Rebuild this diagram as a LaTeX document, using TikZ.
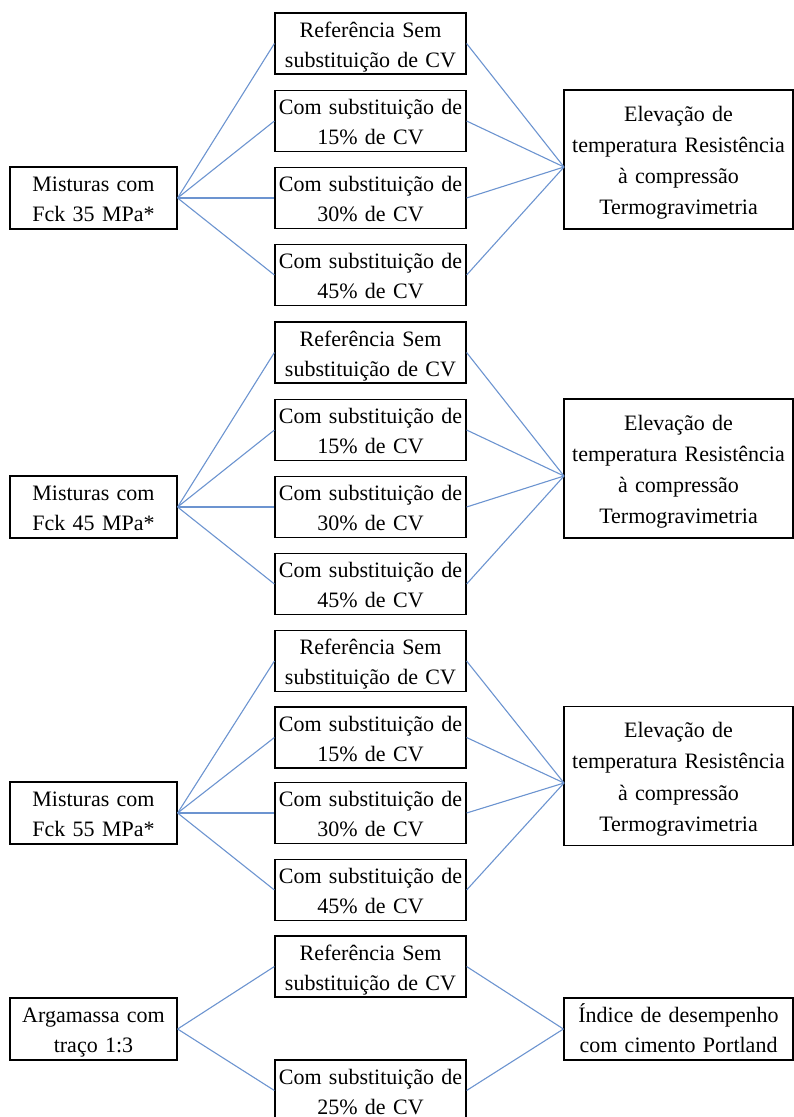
\documentclass[tikz,border=0pt]{standalone}
\usepackage{fontspec}
\setmainfont{Liberation Serif}
\definecolor{linkblue}{RGB}{108,148,208}
\tikzset{
  box/.style={draw=black, line width=1.2pt, rectangle, inner sep=0pt, align=center,
              font=\fontsize{22}{30}\selectfont,
              execute at begin node={\rule{0pt}{22pt}},
              execute at end node={\rule[-5pt]{0pt}{0pt}}},
  midbox/.style={box, minimum width=191pt, minimum height=61pt, text width=189pt},
  leftbox/.style={box, minimum width=167pt, minimum height=62pt, text width=165pt},
  rightbox/.style={box, minimum width=229pt, minimum height=139pt, text width=227pt,
              font=\fontsize{22}{31.2}\selectfont},
  endbox/.style={box, minimum width=229pt, minimum height=62pt, text width=227pt},
  conn/.style={draw=linkblue, line width=1.1pt}
}
\begin{document}
\begin{tikzpicture}[x=1pt,y=-1pt]
\useasboundingbox (0,0) rectangle (794,1117);
\clip (0,0) rectangle (794,1117);

% ---------- Group 1 ----------
\node[leftbox]  (L1)  at (93.5,198)   {Misturas com\\Fck 35 MPa*};
\node[midbox]   (M11) at (370.5,43.5) {Referência Sem\\substituição de CV};
\node[midbox]   (M12) at (370.5,121)  {Com substituição de\\15\% de CV};
\node[midbox]   (M13) at (370.5,198)  {Com substituição de\\30\% de CV};
\node[midbox]   (M14) at (370.5,275)  {Com substituição de\\45\% de CV};
\node[rightbox] (R1)  at (678.5,159.5) {Elevação de\\temperatura Resistência\\à compressão\\Termogravimetria};
\coordinate (C1) at (564,167);
\foreach \m in {M11,M12,M13,M14}{
  \draw[conn] (L1.east) -- (\m.west);
  \draw[conn] (\m.east) -- (C1);
}

% ---------- Group 2 ----------
\node[leftbox]  (L2)  at (93.5,507)   {Misturas com\\Fck 45 MPa*};
\node[midbox]   (M21) at (370.5,352.5) {Referência Sem\\substituição de CV};
\node[midbox]   (M22) at (370.5,430)  {Com substituição de\\15\% de CV};
\node[midbox]   (M23) at (370.5,507)  {Com substituição de\\30\% de CV};
\node[midbox]   (M24) at (370.5,584)  {Com substituição de\\45\% de CV};
\node[rightbox] (R2)  at (678.5,468.5) {Elevação de\\temperatura Resistência\\à compressão\\Termogravimetria};
\coordinate (C2) at (564,476);
\foreach \m in {M21,M22,M23,M24}{
  \draw[conn] (L2.east) -- (\m.west);
  \draw[conn] (\m.east) -- (C2);
}

% ---------- Group 3 ----------
\node[leftbox]  (L3)  at (93.5,813)   {Misturas com\\Fck 55 MPa*};
\node[midbox]   (M31) at (370.5,661)  {Referência Sem\\substituição de CV};
\node[midbox]   (M32) at (370.5,737.5) {Com substituição de\\15\% de CV};
\node[midbox]   (M33) at (370.5,813)  {Com substituição de\\30\% de CV};
\node[midbox]   (M34) at (370.5,890)  {Com substituição de\\45\% de CV};
\node[rightbox] (R3)  at (678.5,776)  {Elevação de\\temperatura Resistência\\à compressão\\Termogravimetria};
\coordinate (C3) at (564,783);
\foreach \m in {M31,M32,M33,M34}{
  \draw[conn] (L3.east) -- (\m.west);
  \draw[conn] (\m.east) -- (C3);
}

% ---------- Group 4 ----------
\node[leftbox]  (L4)  at (93.5,1029)  {Argamassa com\\traço 1:3};
\node[midbox]   (M41) at (370.5,966.5) {Referência Sem\\substituição de CV};
\node[midbox]   (M42) at (370.5,1090.5) {Com substituição de\\25\% de CV};
\node[endbox]   (R4)  at (678.5,1029) {Índice de desempenho\\com cimento Portland};
\foreach \m in {M41,M42}{
  \draw[conn] (L4.east) -- (\m.west);
  \draw[conn] (\m.east) -- (R4.west);
}
\end{tikzpicture}
\end{document}
